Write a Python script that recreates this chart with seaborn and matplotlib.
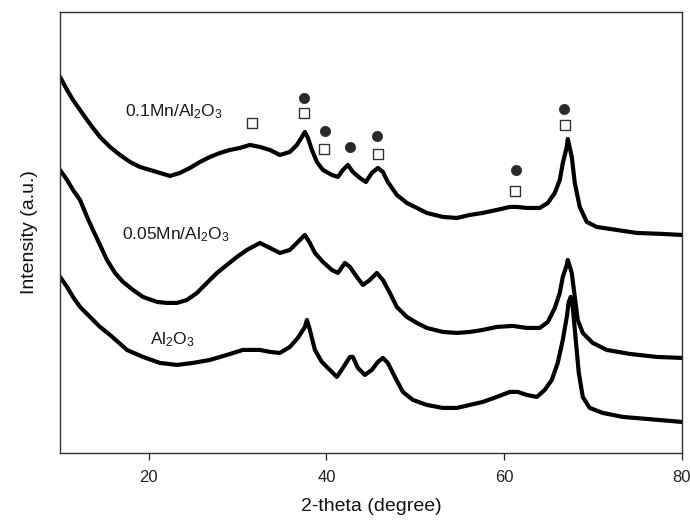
import matplotlib
matplotlib.use("Agg")
import matplotlib.pyplot as plt
import pandas as pd
import seaborn as sns

# 2-theta positions (degree) and intensities (a.u., offset for stacking)
two_theta_mn010 = [10.00, 10.79, 11.46, 12.25, 13.04, 13.71, 14.50, 15.63, 16.75, 17.88,
                   18.99, 20.13, 21.25, 22.38, 23.50, 24.63, 25.76, 26.88, 28.01, 29.13,
                   30.26, 31.38, 32.51, 33.63, 34.76, 35.88, 36.67, 37.23, 37.57, 37.91,
                   38.36, 38.92, 39.60, 40.61, 41.29, 41.85, 42.41, 42.97, 43.76, 44.44,
                   45.11, 45.79, 46.35, 46.91, 47.92, 49.05, 50.18, 51.30, 53.10, 54.68,
                   56.14, 57.60, 59.18, 60.64, 61.43, 62.55, 64.02, 64.92, 65.71, 66.27,
                   66.61, 67.06, 67.17, 67.62, 67.96, 68.52, 69.31, 70.43, 72.68, 74.93,
                   77.86, 80.00]
intensity_mn010 = [376, 363, 353, 343, 333, 325, 316, 306, 298, 291,
                   286, 283, 280, 277, 280, 285, 291, 296, 300, 303,
                   305, 308, 306, 303, 298, 301, 308, 316, 321, 315,
                   303, 291, 283, 278, 276, 283, 288, 281, 275, 271,
                   280, 285, 281, 271, 258, 250, 245, 240, 236, 235,
                   238, 240, 243, 246, 246, 245, 245, 250, 260, 273,
                   290, 306, 314, 296, 270, 246, 231, 226, 223, 220,
                   219, 218]

two_theta_mn005 = [10.00, 10.79, 11.46, 12.25, 13.04, 13.71, 14.50, 15.29, 16.19, 17.09,
                   18.22, 19.34, 20.92, 22.04, 23.17, 24.29, 25.42, 26.54, 27.67, 28.79,
                   29.92, 31.04, 32.51, 33.63, 34.76, 35.88, 36.67, 37.57, 38.13, 38.70,
                   39.60, 40.61, 41.29, 42.07, 42.64, 43.42, 44.10, 44.89, 45.67, 46.35,
                   47.14, 47.92, 49.05, 50.18, 51.30, 53.10, 54.68, 56.14, 57.60, 59.18,
                   60.98, 62.55, 64.02, 64.92, 65.71, 66.27, 66.61, 67.06, 67.17, 67.62,
                   67.96, 68.29, 68.86, 69.98, 71.56, 74.15, 77.19, 80.00]
intensity_mn005 = [283, 273, 263, 253, 236, 223, 208, 193, 180, 171,
                   163, 156, 151, 150, 150, 153, 160, 170, 180, 188,
                   196, 203, 210, 205, 200, 203, 210, 218, 210, 200,
                   191, 183, 180, 190, 186, 176, 168, 173, 180, 173,
                   160, 146, 136, 130, 125, 121, 120, 121, 123, 126,
                   127, 125, 125, 131, 145, 160, 176, 188, 193, 180,
                   156, 133, 120, 110, 103, 99, 96, 95]

two_theta_al2o3 = [10.00, 10.79, 11.46, 12.25, 13.38, 14.50, 15.63, 17.54, 19.34, 21.25,
                   23.17, 24.97, 26.88, 28.79, 30.59, 32.51, 33.63, 34.76, 35.88, 36.78,
                   37.57, 37.80, 38.13, 38.70, 39.48, 40.38, 41.17, 41.85, 42.64, 42.97,
                   43.54, 44.32, 45.11, 45.79, 46.35, 46.91, 47.70, 48.60, 49.73, 51.30,
                   53.10, 54.68, 56.14, 57.60, 59.18, 60.64, 61.54, 62.55, 63.68, 64.58,
                   65.37, 66.04, 66.61, 67.06, 67.28, 67.51, 67.73, 68.07, 68.41, 68.86,
                   69.64, 71.11, 73.36, 76.06, 80.00]
intensity_al2o3 = [176, 166, 156, 146, 136, 126, 118, 103, 96, 90,
                   88, 90, 93, 98, 103, 103, 101, 100, 106, 115,
                   126, 133, 123, 103, 91, 83, 76, 85, 96, 96,
                   85, 78, 83, 91, 95, 90, 76, 61, 53, 48,
                   45, 45, 48, 51, 56, 61, 61, 58, 56, 63,
                   73, 90, 113, 136, 151, 156, 146, 113, 80, 56,
                   45, 40, 36, 34, 31]

# Phase markers above the 0.1Mn/Al2O3 pattern
square_theta = [31.6, 37.5, 39.7, 45.8, 61.2, 66.9]
square_level = [330, 340, 304, 299, 262, 328]
circle_theta = [37.5, 39.8, 42.6, 45.7, 61.3, 66.8]
circle_level = [355, 322, 306, 317, 283, 344]

sample_names = ["0.1Mn/Al$_2$O$_3$", "0.05Mn/Al$_2$O$_3$", "Al$_2$O$_3$"]
label_theta = [17.3, 17.0, 20.1]
label_level = [341, 218, 113]

sns.set_style("ticks")
plt.rcParams["font.family"] = ["Liberation Sans", "DejaVu Sans"]
plt.rcParams["mathtext.fontset"] = "custom"
plt.rcParams["mathtext.rm"] = "Liberation Sans"
plt.rcParams["mathtext.it"] = "Liberation Sans"
plt.rcParams["mathtext.default"] = "regular"

fig = plt.figure(figsize=(6.9, 5.2), dpi=100)
ax = fig.add_axes([0.087, 0.129, 0.901, 0.848])

patterns = [
    (two_theta_mn010, intensity_mn010),
    (two_theta_mn005, intensity_mn005),
    (two_theta_al2o3, intensity_al2o3),
]
for name, (tt, inten) in zip(sample_names, patterns):
    df = pd.DataFrame({"theta": tt, "intensity": inten})
    sns.lineplot(data=df, x="theta", y="intensity", ax=ax, color="black",
                 linewidth=3.0, sort=False, estimator=None)

sns.scatterplot(x=square_theta, y=square_level, ax=ax, marker="s", s=55,
                facecolor="white", edgecolor="#333333", linewidth=1.0)
sns.scatterplot(x=circle_theta, y=circle_level, ax=ax, marker="o", s=55,
                color="#2a2a2a", edgecolor="#2a2a2a", linewidth=0.5)

for name, xt, yt in zip(sample_names, label_theta, label_level):
    ax.text(xt, yt, name, fontsize=12.5, color="#1a1a1a", ha="left", va="center")

ax.set_xlim(10, 80)
ax.set_ylim(0, 441)
ax.set_xticks([20, 40, 60, 80])
ax.set_yticks([])
ax.tick_params(axis="x", direction="out", length=5, width=0.9, labelsize=12,
               colors="#222222", pad=7)
for side in ["left", "right", "top", "bottom"]:
    ax.spines[side].set_visible(True)
    ax.spines[side].set_color("#333333")
    ax.spines[side].set_linewidth(1.0)

ax.set_xlabel("2-theta (degree)", fontsize=14, color="#111111", labelpad=10)
ax.set_ylabel("Intensity (a.u.)", fontsize=14, color="#111111", labelpad=16)

fig.savefig("out.png", dpi=100)
